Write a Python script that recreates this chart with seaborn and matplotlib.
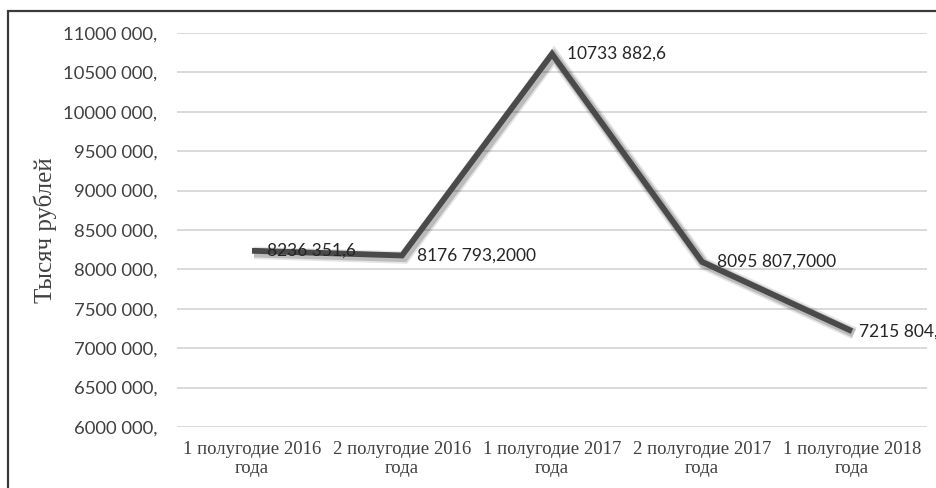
import matplotlib
matplotlib.use("Agg")
import matplotlib.pyplot as plt
import matplotlib.patheffects as pe
from matplotlib.patches import Rectangle
import seaborn as sns
import pandas as pd

# Half-year periods and revenue, thousand rubles
periods = ["1 полугодие 2016\nгода", "2 полугодие 2016\nгода", "1 полугодие 2017\nгода",
           "2 полугодие 2017\nгода", "1 полугодие 2018\nгода"]
revenue = [8236351.6, 8176793.2, 10733882.6, 8095807.7, 7215804.7]
label_decimals = [1, 4, 1, 4, 4]
y_ticks = [6000000, 6500000, 7000000, 7500000, 8000000, 8500000, 9000000,
           9500000, 10000000, 10500000, 11000000]
y_title = "Тысяч рублей"

sns.set_theme(style="white")
plt.rcParams["font.family"] = ["Lato", "DejaVu Sans"]

df = pd.DataFrame({"period": periods, "value": revenue})

fig = plt.figure(figsize=(9.37, 4.88), dpi=100)
ax = fig.add_axes([177 / 937, 1 - 427 / 488, 750 / 937, 394 / 488])

shadow = [pe.SimpleLineShadow(offset=(1.5, -1.5), shadow_color="#000000", alpha=0.10, linewidth=9),
          pe.SimpleLineShadow(offset=(1.5, -1.5), shadow_color="#000000", alpha=0.18, linewidth=6.5),
          pe.Normal()]
sns.lineplot(data=df, x="period", y="value", sort=False, ax=ax, color="#4a4a4a",
             linewidth=4.2, solid_capstyle="butt", solid_joinstyle="miter",
             path_effects=shadow, zorder=3)

ax.set_xlim(-0.5, len(periods) - 0.5)
ax.set_ylim(y_ticks[0], y_ticks[-1])
ax.set_yticks(y_ticks)
ax.set_yticklabels([f"{v // 1000} {v % 1000:03d}," for v in y_ticks],
                   fontsize=13.3, color="#404040")
ax.set_xticks(range(len(periods)))
ax.set_xticklabels(periods, fontsize=13.5, family=["Liberation Serif"], color="#404040",
                   linespacing=1.2)
ax.tick_params(axis="y", length=0, pad=14)
ax.tick_params(axis="x", length=0, pad=10)
ax.grid(axis="y", color="#cfcfcf", linewidth=1.1)
ax.set_axisbelow(True)
for s in ax.spines.values():
    s.set_visible(False)
ax.set_xlabel("")
ax.set_ylabel("")
fig.text(45 / 937, 1 - 230 / 488, y_title, rotation=90, ha="center", va="center",
         fontsize=18, family=["Liberation Serif"], color="#404040")

# Value labels to the right of each point; the last one is pulled in toward its point
n = len(revenue)
for i, (v, d) in enumerate(zip(revenue, label_decimals)):
    whole = int(v)
    frac = f"{v - whole:.{d}f}"[2:]
    txt = f"{whole // 1000} {whole % 1000:03d},{frac}"
    dx = 5 if i == n - 1 else 11
    ax.annotate(txt, (i, v), xytext=(dx, 0), textcoords="offset points",
                ha="left", va="center", fontsize=12.5, color="#252525", zorder=4,
                annotation_clip=False)

# Chart frame
fig.patches.append(Rectangle((8.5 / 937, -0.05), 1.2, 1 - 11 / 488 + 0.05,
                             transform=fig.transFigure, fill=False,
                             edgecolor="#3a3a3a", linewidth=1.6))

fig.savefig("out.png", dpi=100)
